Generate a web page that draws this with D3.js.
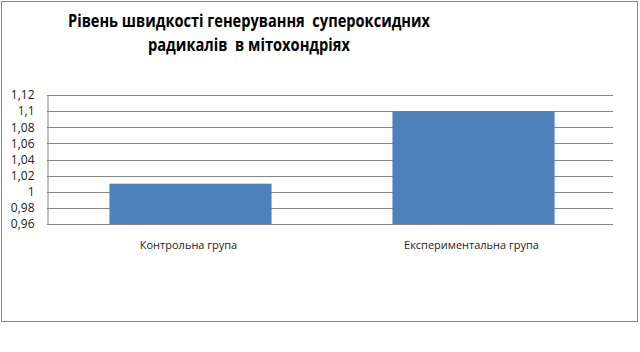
<!DOCTYPE html>
<html>
<head>
<meta charset="utf-8">
<script src="https://cdn.jsdelivr.net/npm/d3@7"></script>
<style>
  body { margin: 0; background: #fff; }
  svg text { font-family: "Open Sans", "Liberation Sans", sans-serif; }
</style>
</head>
<body>
<svg id="chart"></svg>
<script>
var categories = ['Контрольна група', 'Експериментальна група'];
var values = [1.01, 1.1];
var yTicks = [0.96, 0.98, 1, 1.02, 1.04, 1.06, 1.08, 1.1, 1.12];
var titleLines = ['Рівень швидкості генерування  супероксидних', 'радикалів  в мітохондріях'];
var titleWidths = [362, 202];

var width = 640, height = 352;
var margin = {top: 95, right: 27, bottom: 128, left: 47};
var innerW = width - margin.left - margin.right;
var innerH = height - margin.top - margin.bottom;

var svg = d3.select('#chart').attr('width', width).attr('height', height);

// outer frame
svg.append('rect')
    .attr('x', 1.5).attr('y', 1.5)
    .attr('width', 636).attr('height', 320)
    .attr('fill', '#fff').attr('stroke', '#888').attr('stroke-width', 1);

// title
svg.selectAll('text.title').data(titleLines).enter()
    .append('text').attr('class', 'title')
    .attr('x', 249)
    .attr('y', (d, i) => 27 + i * 24)
    .attr('text-anchor', 'middle')
    .attr('font-size', 18).attr('font-weight', 'bold')
    .attr('fill', '#000')
    .style('white-space', 'pre')
    .attr('textLength', (d, i) => titleWidths[i])
    .attr('lengthAdjust', 'spacingAndGlyphs')
    .text(d => d);

var g = svg.append('g').attr('transform', `translate(${margin.left},${margin.top})`);

var x = d3.scaleBand().domain(categories).range([0, innerW]).paddingInner(0.427).paddingOuter(0.2135);
var y = d3.scaleLinear().domain([0.96, 1.12]).range([innerH, 0]);

// gridlines
g.append('g').selectAll('line').data(yTicks).enter()
    .append('line')
    .attr('x1', 0).attr('x2', innerW)
    .attr('y1', d => Math.round(y(d)) + 0.5).attr('y2', d => Math.round(y(d)) + 0.5)
    .attr('stroke', '#878787').attr('stroke-width', 1);

// y axis
var yAxis = d3.axisLeft(y).tickValues(yTicks).tickSize(0).tickPadding(13)
    .tickFormat(d => String(d).replace('.', ','));
var ya = g.append('g').attr('transform', 'translate(0.5,0)').call(yAxis);
ya.select('.domain').attr('stroke', '#878787');
ya.selectAll('text').attr('font-size', 12).attr('fill', '#222')
    .attr('font-family', '"Open Sans", sans-serif');

// bars
g.selectAll('rect.bar').data(values).enter()
    .append('rect').attr('class', 'bar')
    .attr('x', (d, i) => x(categories[i]) + 2)
    .attr('width', x.bandwidth())
    .attr('y', d => y(d))
    .attr('height', d => innerH - y(d))
    .attr('fill', '#4f81bd');

// x axis labels
var xAxis = d3.axisBottom(x).tickSize(0).tickPadding(17);
var xa = g.append('g').attr('transform', `translate(0,${innerH})`).call(xAxis);
xa.select('.domain').remove();
xa.selectAll('text').attr('font-size', 11).attr('fill', '#222')
    .attr('font-family', '"Open Sans", sans-serif');
</script>
</body>
</html>
